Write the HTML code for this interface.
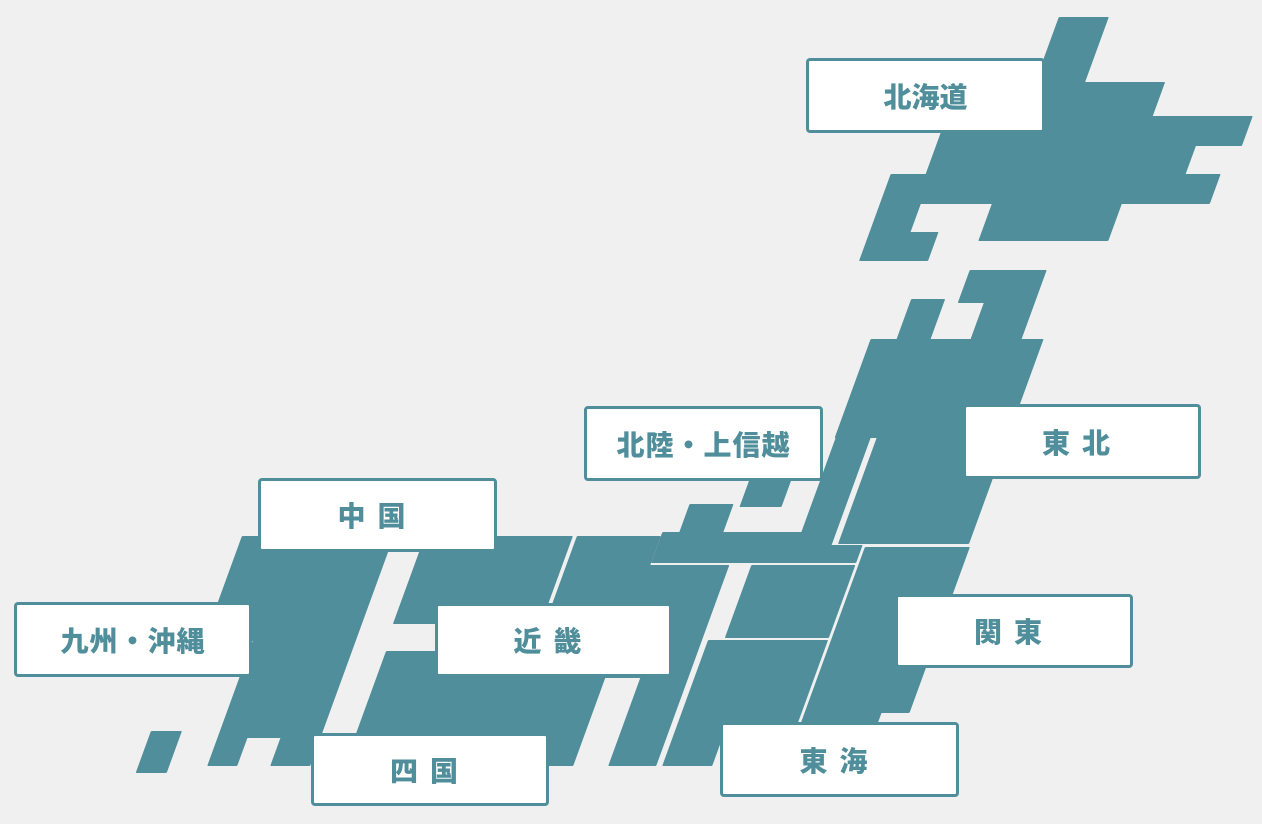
<!DOCTYPE html>
<html><head><meta charset="utf-8"><style>
html,body{margin:0;padding:0;background:#f0f0f0;}
#w{position:relative;width:1262px;height:824px;overflow:hidden;background:#f0f0f0;}
svg{position:absolute;left:0;top:0;}
.l{position:absolute;box-sizing:border-box;background:#fff;border:3px solid #4f8e9a;border-radius:4px;display:flex;align-items:center;justify-content:center;color:#4f8e9a;font-family:"Liberation Sans","Noto Sans CJK JP",sans-serif;font-weight:900;font-size:28px;}
</style></head><body><div id="w">
<svg width="1262" height="824" viewBox="0 0 1262 824">
<g transform="skewX(-20)" fill="#4f8e9a" stroke="#4f8e9a" stroke-width="2" stroke-linejoin="round">
<polygon points="1066,18 1114,18 1114,83 1194,83 1194,117 1294,117 1294,145 1248,145 1248,175 1283,175 1283,203 1195,203 1195,240 1067,240 1067,203 994,203 994,233 1022,233 1022,260 955,260 955,175 990,175 990,83 1066,83"/>
<polygon points="1069,271 1144,271 1144,340 1166,340 1166,543 1037,543 1037,437 995,437 995,340 1021,340 1021,300 1053,300 1053,340 1095,340 1095,302 1069,302"/>
<polygon points="996,438 1029,438 1029,546 1060,546 1060,562 857,562 857,533 874,533 874,505 916,505 916,533 996,533"/>
<polygon points="958,566 1060,566 1060,637 958,637"/>
<polygon points="942,641 1060,641 1060,737 990,737 990,765 942,765"/>
<polygon points="1065,548 1168,548 1168,712 1140,712 1140,722 1065,722"/>
<polygon points="773,537 855,537 855,566 934,566 934,765 888,765 888,677 773,677"/>
<polygon points="624,652 851,652 851,765 624,765"/>
<polygon points="621,537 767,537 767,623 621,623"/>
<polygon points="438,537 588,537 588,765 550,765 550,737 515,737 515,765 487,765 487,640 438,640"/>
<polygon points="418,732 447,732 447,772 418,772"/>
<polygon points="925,480 965,480 965,506 925,506"/>
</g>
</svg>
<div class="l" style="left:806px;top:58px;width:239px;height:75px;">北海道</div>
<div class="l" style="left:584px;top:406px;width:239px;height:75px;letter-spacing:1px;">北陸・上信越</div>
<div class="l" style="left:963px;top:404px;width:238px;height:75px;letter-spacing:12px;">東北</div>
<div class="l" style="left:258px;top:478px;width:239px;height:74px;letter-spacing:12px;">中国</div>
<div class="l" style="left:14px;top:602px;width:238px;height:75px;letter-spacing:1px;">九州・沖縄</div>
<div class="l" style="left:435px;top:603px;width:237px;height:74px;letter-spacing:12px;">近畿</div>
<div class="l" style="left:895px;top:594px;width:238px;height:74px;letter-spacing:12px;">関東</div>
<div class="l" style="left:311px;top:733px;width:238px;height:73px;letter-spacing:12px;">四国</div>
<div class="l" style="left:720px;top:722px;width:239px;height:75px;letter-spacing:12px;">東海</div>
</div></body></html>
